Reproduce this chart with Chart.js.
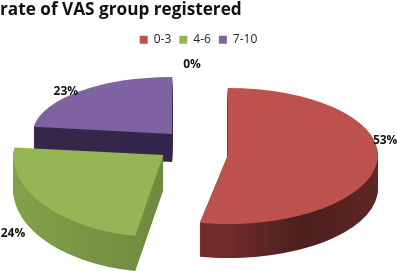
<!DOCTYPE html>
<html>
<head>
<meta charset="utf-8">
<style>
  html, body { margin: 0; padding: 0; background: #fff; overflow: hidden; }
  canvas { display: block; }
</style>
<script src="https://cdn.jsdelivr.net/npm/chart.js@4"></script>
</head>
<body>
<canvas id="myChart" width="397" height="271"></canvas>
<script>
const TITLE = 'rate of VAS group registered';
const CATEGORIES = ['0-3', '4-6', '7-10'];
const VALUES = [53, 24, 23, 0];

const COLOURS = ['#bd514e', '#96b655', '#7f62a1', '#7f62a1'];
const FONT = '"Open Sans", sans-serif';

// fake 3D: slices are squashed, pulled apart and stacked to get a wall
const pie3d = {
    id: 'pie3d',
    beforeDatasetsDraw(chart, args, opts) {
        const ctx = chart.ctx;
        const arcs = chart.getDatasetMeta(0).data;

        const drawLayer = (arc, apex, i, dy) => {
            const y = apex.y + dy;
            // upper and lower half get their own squash, gives a bit of perspective
            [[opts.squashTop[i], 0, y], [opts.squashBottom[i], y, chart.height]].forEach(([k, top, bottom]) => {
                ctx.save();
                ctx.beginPath();
                ctx.rect(0, top, chart.width, bottom - top);
                ctx.clip();
                ctx.translate(apex.x, y);
                ctx.scale(opts.squashX[i], k);
                ctx.translate(-arc.x, -arc.y);
                arc.draw(ctx);
                ctx.restore();
            });
        };

        for (let i = arcs.length - 1; i >= 0; i--) {
            const arc = arcs[i];
            const mid = (arc.startAngle + arc.endAngle) / 2;
            const k = Math.sin(mid) > 0 ? opts.squashBottom[i] : opts.squashTop[i];
            const apex = {
                x: opts.centerX + Math.cos(mid) * opts.explode[i],
                y: Math.round(opts.centerY + Math.sin(mid) * opts.explode[i] * k + opts.lift[i])
            };
            const topOptions = arc.options;

            if (opts.walls[i]) {
                const wall = ctx.createLinearGradient(arc.x - arc.outerRadius, 0, arc.x + arc.outerRadius, 0);
                opts.walls[i].forEach((c, n, all) => wall.addColorStop(n / (all.length - 1), c));
                arc.options = Object.assign({}, topOptions, { backgroundColor: wall });
                for (let dy = opts.depth[i]; dy > 0; dy--) {
                    drawLayer(arc, apex, i, dy);
                }
                arc.options = topOptions;
            }
            drawLayer(arc, apex, i, 0);

            const value = chart.data.datasets[0].data[i];
            ctx.save();
            ctx.font = 'bold 12px ' + FONT;
            ctx.fillStyle = '#111';
            ctx.textAlign = 'center';
            ctx.textBaseline = 'middle';
            ctx.fillText(
                value + '%',
                apex.x + Math.cos(mid) * arc.outerRadius * opts.squashX[i] + opts.labelNudge[i][0],
                apex.y + Math.sin(mid) * arc.outerRadius * k + opts.labelNudge[i][1]
            );
            ctx.restore();
        }
        return false;
    }
};

new Chart(document.getElementById('myChart'), {
    type: 'pie',
    data: {
        labels: CATEGORIES,
        datasets: [{
            data: VALUES,
            backgroundColor: COLOURS,
            borderWidth: 0,
            radius: 150
        }]
    },
    options: {
        responsive: false,
        animation: false,
        plugins: {
            tooltip: { enabled: false },
            title: {
                display: true,
                text: TITLE,
                align: 'start',
                color: '#111',
                font: { family: FONT, size: 17.2, weight: 'bold' },
                padding: { top: 0, bottom: 5 }
            },
            legend: {
                position: 'top',
                labels: {
                    boxWidth: 8,
                    boxHeight: 8,
                    padding: 8,
                    color: '#222',
                    font: { family: FONT, size: 12 }
                }
            },
            pie3d: {
                centerX: 190,
                centerY: 145,
                squashX: [1, 1, 0.93, 1],
                squashTop: [0.447, 0.4, 0.38, 0.4],
                squashBottom: [0.46, 0.55, 0.52, 0.52],
                explode: [38, 33, 27, 0],
                lift: [8, -1, -3, 0],
                depth: [34, 35, 28, 0],
                walls: [
                    ['#702c2a', '#702c2a', '#702c2a', '#4c1f1d', '#5e2725'],
                    ['#83a14a', '#6f8a3f', '#7e9b47'],
                    ['#35274a', '#33264a'],
                    null
                ],
                labelNudge: [[8, -21], [-29, 30], [-14, 0], [2, -20]]
            }
        }
    },
    plugins: [pie3d]
});
</script>
</body>
</html>
